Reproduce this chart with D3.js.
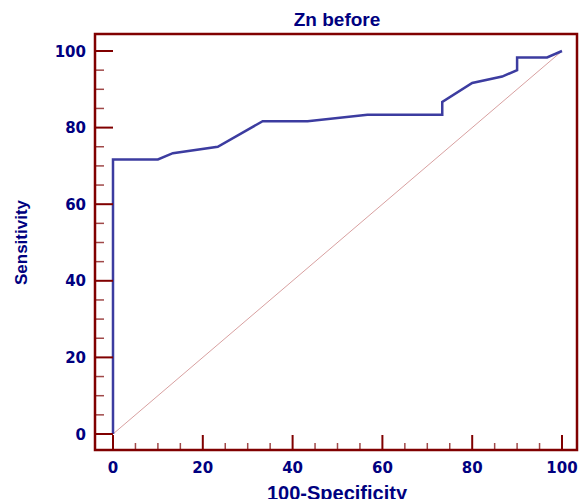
<!DOCTYPE html>
<html>
<head>
<meta charset="utf-8">
<script src="https://cdn.jsdelivr.net/npm/d3@7"></script>
<style>
  body { margin: 0; background: #fff; }
  text { font-family: Arial, "Liberation Sans", sans-serif; font-weight: bold; fill: #000080; }
  text.tick { font-family: "DejaVu Sans", Verdana, sans-serif; }
</style>
</head>
<body>
<svg id="chart" width="579" height="499"></svg>
<script>
// ROC curve points (100-Specificity, Sensitivity)
var fpr = [0, 0, 10, 13.33, 23.33, 33.33, 43.33, 56.67, 73.33, 73.33, 80, 86.67, 90, 90, 96.67, 100]
var tpr = [0, 71.67, 71.67, 73.33, 75, 81.67, 81.67, 83.33, 83.33, 86.67, 91.67, 93.33, 95, 98.33, 98.33, 100]
var majorTicks = [0, 20, 40, 60, 80, 100]
var minorTicks = d3.range(0, 101, 5).filter(function(v){ return v % 20 != 0 })

var svg = d3.select("#chart")

var frame = {left: 95, right: 577, top: 34, bottom: 450}

var x = d3.scaleLinear().domain([0, 100]).range([113, 562])
var y = d3.scaleLinear().domain([0, 100]).range([434, 51])

var axisCol = "#800000"

// diagonal reference line
svg.append("line")
  .attr("x1", x(0)).attr("y1", y(0))
  .attr("x2", x(100)).attr("y2", y(100))
  .attr("stroke", "#d8a0a0")
  .attr("stroke-width", 1)

// ROC curve
var pts = fpr.map(function(d, i){ return [d, tpr[i]] })
svg.append("path")
  .datum(pts)
  .attr("d", d3.line().x(function(d){ return x(d[0]) }).y(function(d){ return y(d[1]) }))
  .attr("fill", "none")
  .attr("stroke", "#3c3ca0")
  .attr("stroke-width", 2.5)

// y ticks
svg.selectAll(".ymaj").data(majorTicks).enter().append("line")
  .attr("x1", frame.left).attr("x2", frame.left + 18)
  .attr("y1", y).attr("y2", y)
  .attr("stroke", axisCol).attr("stroke-width", 2)
svg.selectAll(".ymin").data(minorTicks).enter().append("line")
  .attr("x1", frame.left).attr("x2", frame.left + 9)
  .attr("y1", y).attr("y2", y)
  .attr("stroke", "#a04848").attr("stroke-width", 1.5)
svg.selectAll(".ylab").data(majorTicks).enter().append("text")
  .attr("class", "tick")
  .attr("x", 86).attr("y", function(d){ return y(d) + 5.5 })
  .attr("text-anchor", "end")
  .style("font-size", "15px")
  .text(function(d){ return d })

// x ticks
svg.selectAll(".xmaj").data(majorTicks).enter().append("line")
  .attr("y1", frame.bottom).attr("y2", frame.bottom - 15)
  .attr("x1", x).attr("x2", x)
  .attr("stroke", axisCol).attr("stroke-width", 2)
svg.selectAll(".xmin").data(minorTicks).enter().append("line")
  .attr("y1", frame.bottom).attr("y2", frame.bottom - 7)
  .attr("x1", x).attr("x2", x)
  .attr("stroke", "#a04848").attr("stroke-width", 1.5)
svg.selectAll(".xlab").data(majorTicks).enter().append("text")
  .attr("class", "tick")
  .attr("x", x).attr("y", 473)
  .attr("text-anchor", "middle")
  .style("font-size", "15px")
  .text(function(d){ return d })

// frame
svg.append("rect")
  .attr("x", frame.left).attr("y", frame.top)
  .attr("width", frame.right - frame.left).attr("height", frame.bottom - frame.top)
  .attr("fill", "none")
  .attr("stroke", axisCol).attr("stroke-width", 2.5)

// titles
svg.append("text")
  .attr("x", 337).attr("y", 26)
  .attr("text-anchor", "middle")
  .style("font-size", "19px")
  .text("Zn before")

svg.append("text")
  .attr("x", 337).attr("y", 500)
  .attr("text-anchor", "middle")
  .style("font-size", "20px")
  .text("100-Specificity")

svg.append("text")
  .attr("transform", "translate(27,242.5) rotate(-90)")
  .attr("text-anchor", "middle")
  .style("font-size", "17px")
  .text("Sensitivity")
</script>
</body>
</html>
